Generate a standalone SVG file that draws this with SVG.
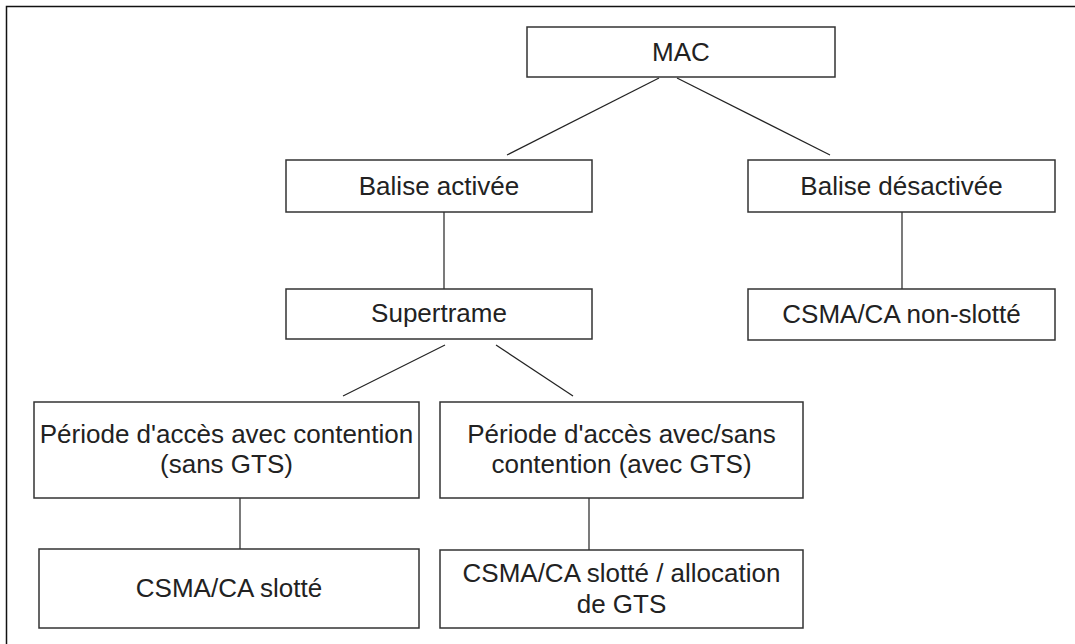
<svg xmlns="http://www.w3.org/2000/svg" width="1075" height="644" viewBox="0 0 1075 644">
<style>
.box{fill:#ffffff;stroke:#333333;stroke-width:1.5}
.lbl{font-family:"Liberation Sans",Arial,sans-serif;font-size:26px;fill:#222222;text-anchor:middle}
.conn{stroke:#222222;stroke-width:1.2;fill:none}
</style>
<rect x="0" y="0" width="1075" height="644" fill="#ffffff"/>
<rect x="6.5" y="6.5" width="1200" height="800" fill="none" stroke="#111111" stroke-width="1.5"/>
<g id="connectors">
<line class="conn" x1="659" y1="78" x2="507" y2="155"/>
<line class="conn" x1="677" y1="78" x2="830" y2="155"/>
<line class="conn" x1="444" y1="212" x2="444" y2="289"/>
<line class="conn" x1="902" y1="212" x2="902" y2="289"/>
<line class="conn" x1="445" y1="345" x2="343" y2="396"/>
<line class="conn" x1="496" y1="345" x2="573" y2="396"/>
<line class="conn" x1="240" y1="498" x2="240" y2="549"/>
<line class="conn" x1="589" y1="498" x2="589" y2="550"/>
</g>
<g id="mac">
<rect class="box" x="527" y="27" width="308" height="50"/>
<text class="lbl" x="681" y="61">MAC</text>
</g>
<g id="balise-activee">
<rect class="box" x="286" y="160" width="306" height="52"/>
<text class="lbl" x="439" y="195">Balise activée</text>
</g>
<g id="balise-desactivee">
<rect class="box" x="748" y="160" width="307" height="52"/>
<text class="lbl" x="901.5" y="195">Balise désactivée</text>
</g>
<g id="supertrame">
<rect class="box" x="286" y="289" width="306" height="50"/>
<text class="lbl" x="439" y="322">Supertrame</text>
</g>
<g id="csma-non-slotte">
<rect class="box" x="748" y="289" width="307" height="51"/>
<text class="lbl" x="901.5" y="323">CSMA/CA non-slotté</text>
</g>
<g id="periode-contention">
<rect class="box" x="34" y="402" width="385" height="96"/>
<text class="lbl" x="226.5" y="443">Période d'accès avec contention</text>
<text class="lbl" x="226.5" y="473">(sans GTS)</text>
</g>
<g id="periode-gts">
<rect class="box" x="440" y="402" width="363" height="96"/>
<text class="lbl" x="621.5" y="443">Période d'accès avec/sans</text>
<text class="lbl" x="621.5" y="473">contention (avec GTS)</text>
</g>
<g id="csma-slotte">
<rect class="box" x="39" y="549" width="380" height="79"/>
<text class="lbl" x="229" y="597">CSMA/CA slotté</text>
</g>
<g id="csma-slotte-gts">
<rect class="box" x="440" y="550" width="363" height="78"/>
<text class="lbl" x="621.5" y="582">CSMA/CA slotté / allocation</text>
<text class="lbl" x="621.5" y="613">de GTS</text>
</g>
</svg>
